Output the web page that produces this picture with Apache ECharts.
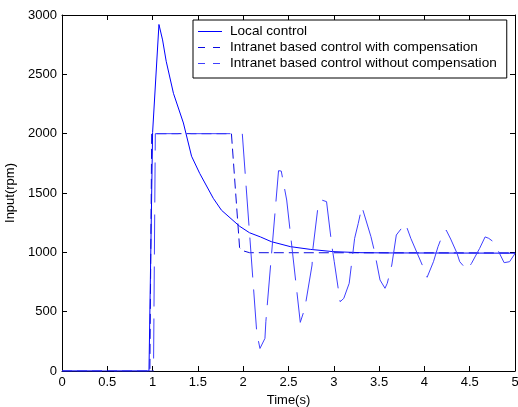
<!DOCTYPE html>
<html>
<head>
<meta charset="utf-8">
<script src="https://cdn.jsdelivr.net/npm/echarts@6/dist/echarts.min.js"></script>
<style>html,body{margin:0;padding:0;background:#fff;}#c{width:518px;height:407px;}</style>
</head>
<body>
<div id="c"></div>
<script>
const seriesNames = ['Local control', 'Intranet based control with compensation', 'Intranet based control without compensation'];
const xTicks = ['0','0.5','1','1.5','2','2.5','3','3.5','4','4.5','5'];
const yTicks = ['0','500','1000','1500','2000','2500','3000'];

const localControl = [[0,0],[0.96,0],[1.0,2010],[1.07,2920],[1.11,2790],[1.15,2610],[1.23,2340],[1.34,2090],[1.43,1810],[1.52,1665],[1.67,1455],[1.76,1355],[1.96,1220],[2.07,1165],[2.19,1130],[2.31,1090],[2.52,1048],[2.74,1025],[2.99,1006],[3.3,997],[3.6,995],[5,993]];
const withComp = [[0,0],[0.97,0],[0.99,2000],[1.87,2000],[1.96,1040],[1.99,1015],[2.07,997],[5,995]];
const withoutComp = [[0,0],[1.01,0],[1.03,2000],[1.99,2000],[2.15,320],[2.185,190],[2.24,275],[2.25,415],[2.39,1688],[2.42,1685],[2.48,1441],[2.63,410],[2.68,528],[2.76,893],[2.77,1034],[2.83,1413],[2.87,1440],[2.92,1427],[2.98,1047],[3.005,921],[3.07,584],[3.11,612],[3.17,739],[3.23,1118],[3.27,1244],[3.31,1385],[3.41,1132],[3.45,1005],[3.51,767],[3.565,697],[3.59,739],[3.64,893],[3.69,1146],[3.79,1244],[3.81,1250],[3.85,1118],[4.0,851],[4.03,790],[4.10,921],[4.15,1047],[4.20,1146],[4.24,1188],[4.29,1112],[4.36,992],[4.39,921],[4.47,851],[4.52,907],[4.61,1034],[4.67,1130],[4.71,1118],[4.76,1090],[4.82,1005],[4.88,913],[4.94,921],[5,990]];

const colors = ['#0000ff', '#0a0ae0', '#3f3fff'];
const font = '"Liberation Sans", Arial, sans-serif';
const fs = 13;
const chart = echarts.init(document.getElementById('c'), null, {renderer: 'canvas'});
function axisLine() { return {show: true, onZero: false, lineStyle: {color: '#000', width: 1}}; }
function axisTick() { return {show: true, inside: true, length: 5, lineStyle: {color: '#000', width: 1}}; }

// legend sample lines (legend key decoration, not data marks)
const legendDash = ['solid', [7, 8], [7, 8]];
const legendKeys = seriesNames.map((n, i) => ({
  type: 'line', z: 200, silent: true,
  shape: {x1: 198, y1: 31.5 + i * 16, x2: 222, y2: 31.5 + i * 16},
  style: {stroke: colors[i], lineWidth: 1, lineDash: legendDash[i] === 'solid' ? null : legendDash[i]}
}));

chart.setOption({
  animation: false,
  backgroundColor: '#fff',
  color: colors,
  grid: {left: 62, right: 3, top: 15, bottom: 36, containLabel: false, outerBoundsMode: 'none'},
  xAxis: [
    {type: 'value', min: 0, max: 5, interval: 0.5, position: 'bottom',
      name: 'Time(s)', nameLocation: 'middle', nameGap: 17,
      nameTextStyle: {fontFamily: font, fontSize: fs, color: '#000'},
      axisLine: axisLine(), axisTick: axisTick(), splitLine: {show: false},
      axisLabel: {fontFamily: font, fontSize: fs, color: '#000', margin: 5,
        formatter: (v) => xTicks[Math.round(v / 0.5)] ?? ''}},
    {type: 'value', min: 0, max: 5, interval: 0.5, position: 'top',
      axisLine: axisLine(), axisTick: axisTick(), splitLine: {show: false},
      axisLabel: {show: false}}
  ],
  yAxis: [
    {type: 'value', min: 0, max: 3000, interval: 500, position: 'left',
      name: 'Input(rpm)', nameLocation: 'middle', nameGap: 39, nameRotate: 90,
      nameTextStyle: {fontFamily: font, fontSize: fs, color: '#000'},
      axisLine: axisLine(), axisTick: axisTick(), splitLine: {show: false},
      axisLabel: {fontFamily: font, fontSize: fs, color: '#000', margin: 5,
        formatter: (v) => yTicks[Math.round(v / 500)] ?? ''}},
    {type: 'value', min: 0, max: 3000, interval: 500, position: 'right',
      axisLine: axisLine(), axisTick: axisTick(), splitLine: {show: false},
      axisLabel: {show: false}}
  ],
  legend: {
    orient: 'vertical', left: 193, top: 20,
    backgroundColor: '#fff', borderColor: '#000', borderWidth: 1,
    padding: [4, 10, 7, 5], itemGap: 1, itemWidth: 24, itemHeight: 1,
    selectedMode: false,
    textStyle: {fontFamily: font, fontSize: 13.6, color: '#000', padding: [0, 0, 0, 3], lineHeight: 15},
    data: seriesNames.map(n => ({name: n, icon: 'none'}))
  },
  graphic: legendKeys,
  series: [
    {name: seriesNames[0], type: 'line', data: localControl, showSymbol: false, symbol: 'none',
      lineStyle: {color: colors[0], width: 1}, itemStyle: {color: colors[0]}},
    {name: seriesNames[1], type: 'line', data: withComp, showSymbol: false, symbol: 'none',
      lineStyle: {color: colors[1], width: 1, type: [10, 5]}, itemStyle: {color: colors[1]}},
    {name: seriesNames[2], type: 'line', data: withoutComp, showSymbol: false, symbol: 'none',
      lineStyle: {color: colors[2], width: 1, type: [40, 12]}, itemStyle: {color: colors[2]}}
  ]
});
</script>
</body>
</html>
